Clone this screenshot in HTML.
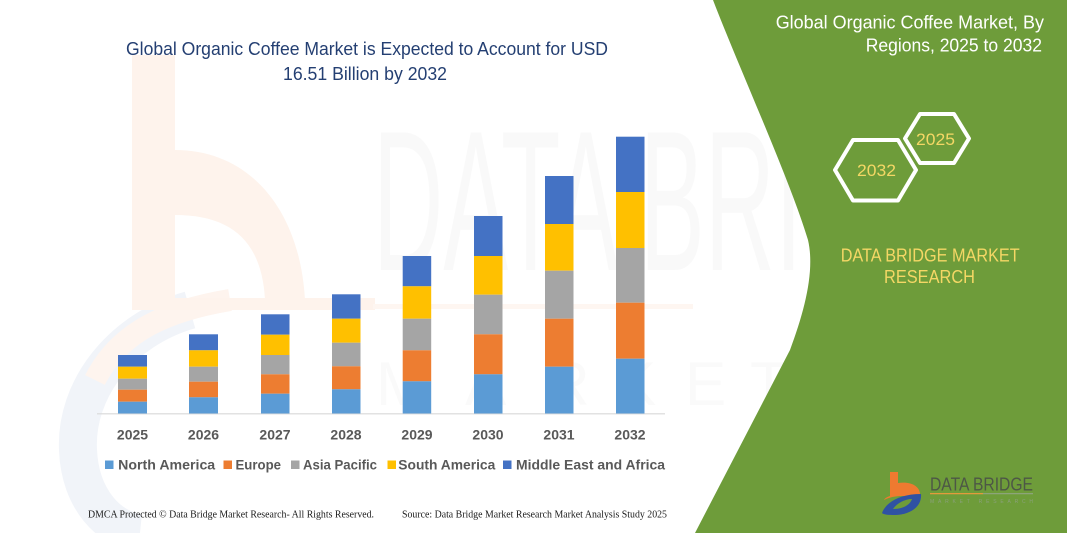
<!DOCTYPE html>
<html>
<head>
<meta charset="utf-8">
<style>
  html, body { margin:0; padding:0; background:#ffffff; }
  body { width:1067px; height:533px; overflow:hidden; }
  svg { display:block; }
</style>
</head>
<body>
<svg width="1067" height="533" viewBox="0 0 1067 533" xmlns="http://www.w3.org/2000/svg">
  <rect x="0" y="0" width="1067" height="533" fill="#ffffff"/>

  <!-- faint background logo (left) -->
  <g>
    <path d="M190,310 C120,330 75,390 78,450 C80,500 110,530 140,533" fill="none" stroke="#f1f4f9" stroke-width="38"/>
    <path d="M95,380 C120,330 170,310 230,300" fill="none" stroke="#fef4ee" stroke-width="22"/>
    <rect x="132" y="55" width="43" height="255" fill="#fef3ec"/>
    <path d="M175,150 C250,150 300,210 305,300 L265,300 C262,240 230,215 175,215 Z" fill="#fef3ec"/>
    <rect x="175" y="298" width="200" height="12" fill="#fef3ec"/>
    <rect x="373" y="304" width="320" height="5" fill="#fef6f1"/>
  </g>

  <!-- faint watermark text -->
  <text x="373" y="270" font-family="Liberation Sans, sans-serif" font-size="200" textLength="640" lengthAdjust="spacingAndGlyphs" fill="#000" fill-opacity="0.022">DATA BRIDGE</text>
  <g font-family="Liberation Sans, sans-serif" font-size="62" fill="#000" fill-opacity="0.02">
    <text x="376" y="405">M</text>
    <text x="465" y="405">A</text>
    <text x="545" y="405">R</text>
    <text x="615" y="405">K</text>
    <text x="685" y="405">E</text>
    <text x="750" y="405">T</text>
    <text x="840" y="405">R</text>
    <text x="905" y="405">E</text>
    <text x="965" y="405">S</text>
  </g>

  <!-- green panel -->
  <path d="M713,0 C740,70 790,180 808,240 C815,270 805,310 790,350 L695,533 L1067,533 L1067,0 Z" fill="#6e9c3a"/>

  <!-- Title -->
  <text x="126" y="55" font-family="Liberation Sans, sans-serif" font-size="18.5" fill="#243f72" textLength="482" lengthAdjust="spacingAndGlyphs">Global Organic Coffee Market is Expected to Account for USD</text>
  <text x="283" y="80" font-family="Liberation Sans, sans-serif" font-size="18.5" fill="#243f72" textLength="164" lengthAdjust="spacingAndGlyphs">16.51 Billion by 2032</text>

  <!-- Axis -->
  <line x1="97" y1="413.8" x2="665" y2="413.8" stroke="#d9d9d9" stroke-width="1.2"/>

  <!-- Bars -->
  <g>
    <rect x="118" y="355" width="29" height="11.7" fill="#4472c4"/>
    <rect x="118" y="366.7" width="29" height="12" fill="#ffc000"/>
    <rect x="118" y="378.7" width="29" height="11" fill="#a5a5a5"/>
    <rect x="118" y="389.7" width="29" height="12" fill="#ed7d31"/>
    <rect x="118" y="401.7" width="29" height="11.8" fill="#5b9bd5"/>

    <rect x="189" y="334.3" width="29" height="16" fill="#4472c4"/>
    <rect x="189" y="350.3" width="29" height="16.4" fill="#ffc000"/>
    <rect x="189" y="366.7" width="29" height="15" fill="#a5a5a5"/>
    <rect x="189" y="381.7" width="29" height="15.6" fill="#ed7d31"/>
    <rect x="189" y="397.3" width="29" height="16.2" fill="#5b9bd5"/>

    <rect x="261" y="314.3" width="28.5" height="20.4" fill="#4472c4"/>
    <rect x="261" y="334.7" width="28.5" height="20.3" fill="#ffc000"/>
    <rect x="261" y="355" width="28.5" height="19.3" fill="#a5a5a5"/>
    <rect x="261" y="374.3" width="28.5" height="19.4" fill="#ed7d31"/>
    <rect x="261" y="393.7" width="28.5" height="19.8" fill="#5b9bd5"/>

    <rect x="332" y="294.3" width="28.5" height="24.4" fill="#4472c4"/>
    <rect x="332" y="318.7" width="28.5" height="24" fill="#ffc000"/>
    <rect x="332" y="342.7" width="28.5" height="23.6" fill="#a5a5a5"/>
    <rect x="332" y="366.3" width="28.5" height="23" fill="#ed7d31"/>
    <rect x="332" y="389.3" width="28.5" height="24.2" fill="#5b9bd5"/>

    <rect x="402.7" y="256" width="28.5" height="30.3" fill="#4472c4"/>
    <rect x="402.7" y="286.3" width="28.5" height="32.4" fill="#ffc000"/>
    <rect x="402.7" y="318.7" width="28.5" height="31.6" fill="#a5a5a5"/>
    <rect x="402.7" y="350.3" width="28.5" height="31" fill="#ed7d31"/>
    <rect x="402.7" y="381.3" width="28.5" height="32.2" fill="#5b9bd5"/>

    <rect x="474" y="216" width="28.5" height="40" fill="#4472c4"/>
    <rect x="474" y="256" width="28.5" height="38.7" fill="#ffc000"/>
    <rect x="474" y="294.7" width="28.5" height="39.6" fill="#a5a5a5"/>
    <rect x="474" y="334.3" width="28.5" height="40" fill="#ed7d31"/>
    <rect x="474" y="374.3" width="28.5" height="39.2" fill="#5b9bd5"/>

    <rect x="545" y="176" width="28.5" height="48" fill="#4472c4"/>
    <rect x="545" y="224" width="28.5" height="46.7" fill="#ffc000"/>
    <rect x="545" y="270.7" width="28.5" height="48" fill="#a5a5a5"/>
    <rect x="545" y="318.7" width="28.5" height="48" fill="#ed7d31"/>
    <rect x="545" y="366.7" width="28.5" height="46.8" fill="#5b9bd5"/>

    <rect x="616" y="136.7" width="28.5" height="55.3" fill="#4472c4"/>
    <rect x="616" y="192" width="28.5" height="56" fill="#ffc000"/>
    <rect x="616" y="248" width="28.5" height="54.7" fill="#a5a5a5"/>
    <rect x="616" y="302.7" width="28.5" height="56" fill="#ed7d31"/>
    <rect x="616" y="358.7" width="28.5" height="54.8" fill="#5b9bd5"/>
  </g>

  <!-- Year labels -->
  <g font-family="Liberation Sans, sans-serif" font-size="14" font-weight="bold" fill="#595959" text-anchor="middle">
    <text x="132.5" y="439.5">2025</text>
    <text x="203.5" y="439.5">2026</text>
    <text x="275" y="439.5">2027</text>
    <text x="346" y="439.5">2028</text>
    <text x="417" y="439.5">2029</text>
    <text x="488" y="439.5">2030</text>
    <text x="559" y="439.5">2031</text>
    <text x="630" y="439.5">2032</text>
  </g>

  <!-- Legend -->
  <rect x="105" y="460.5" width="8.5" height="8.5" fill="#5b9bd5"/>
  <rect x="223.5" y="460.5" width="8.5" height="8.5" fill="#ed7d31"/>
  <rect x="291" y="460.5" width="8.5" height="8.5" fill="#a5a5a5"/>
  <rect x="387.5" y="460.5" width="8.5" height="8.5" fill="#ffc000"/>
  <rect x="503" y="460.5" width="8.5" height="8.5" fill="#4472c4"/>
  <g font-family="Liberation Sans, sans-serif" font-size="14" font-weight="bold" fill="#595959">
    <text x="118.2" y="469.5" textLength="97" lengthAdjust="spacingAndGlyphs">North America</text>
    <text x="235.5" y="469.5" textLength="45.5" lengthAdjust="spacingAndGlyphs">Europe</text>
    <text x="303" y="469.5" textLength="74" lengthAdjust="spacingAndGlyphs">Asia Pacific</text>
    <text x="398.3" y="469.5" textLength="97" lengthAdjust="spacingAndGlyphs">South America</text>
    <text x="516" y="469.5" textLength="149" lengthAdjust="spacingAndGlyphs">Middle East and Africa</text>
  </g>

  <!-- Footer -->
  <g font-family="Liberation Serif, serif" font-size="10.5" fill="#1a1a1a">
    <text x="88" y="517.7" textLength="286" lengthAdjust="spacingAndGlyphs">DMCA Protected © Data Bridge Market Research-  All Rights Reserved.</text>
    <text x="402" y="517.7" textLength="265" lengthAdjust="spacingAndGlyphs">Source: Data Bridge Market Research  Market Analysis Study 2025</text>
  </g>

  <!-- Right panel title -->
  <g font-family="Liberation Sans, sans-serif" font-size="18.5" fill="#ffffff">
    <text x="775.7" y="28.3" textLength="268.3" lengthAdjust="spacingAndGlyphs">Global Organic Coffee Market, By</text>
    <text x="865.7" y="51.7" textLength="176.3" lengthAdjust="spacingAndGlyphs">Regions, 2025 to 2032</text>
  </g>

  <!-- Hexagons -->
  <polygon points="905,138.5 920,114 954,114 969,138.5 954,163 920,163" fill="none" stroke="#ffffff" stroke-width="4" stroke-linejoin="round"/>
  <polygon points="835,170 853,140 898,140 916,170 898,200.5 853,200.5" fill="none" stroke="#ffffff" stroke-width="4" stroke-linejoin="round"/>
  <g font-family="Liberation Sans, sans-serif" font-size="17" fill="#f4d765">
    <text x="916" y="145" textLength="39" lengthAdjust="spacingAndGlyphs">2025</text>
    <text x="857" y="176" textLength="39" lengthAdjust="spacingAndGlyphs">2032</text>
  </g>

  <!-- DATA BRIDGE MARKET RESEARCH -->
  <g font-family="Liberation Sans, sans-serif" font-size="18" fill="#f4d765">
    <text x="840.7" y="261.5" textLength="179" lengthAdjust="spacingAndGlyphs">DATA BRIDGE MARKET</text>
    <text x="884" y="283" textLength="91" lengthAdjust="spacingAndGlyphs">RESEARCH</text>
  </g>

  <!-- Bottom-right logo -->
  <g>
    <path d="M884,500 C890,497 896,496 902,496 L920,496 C921,487 912,481 898,483 L898,472 L890,472 L890,496 C887,497 885,498 884,500 Z" fill="#ee7a30"/>
    <path d="M882,513 C886,502 900,494 921,494 C922,505 913,514 896,515 C889,515 884,515 882,513 Z" fill="#2f52a3"/>
    <path d="M893,509 C897,503 905,499 912,499 C910,505 903,509 893,509 Z" fill="#6e9c3a"/>
    <text x="930" y="490.7" font-family="Liberation Sans, sans-serif" font-size="18" fill="#4d5746" textLength="103" lengthAdjust="spacingAndGlyphs">DATA BRIDGE</text>
    <line x1="930" y1="493.6" x2="983" y2="493.6" stroke="#e39a3c" stroke-width="1.2"/>
    <line x1="983" y1="493.6" x2="1033" y2="493.6" stroke="#8ca47a" stroke-width="1.2"/>
    <text x="930" y="503" font-family="Liberation Sans, sans-serif" font-size="5" fill="#8aa07a" textLength="103" lengthAdjust="spacing">MARKET RESEARCH</text>
  </g>
</svg>
</body>
</html>
